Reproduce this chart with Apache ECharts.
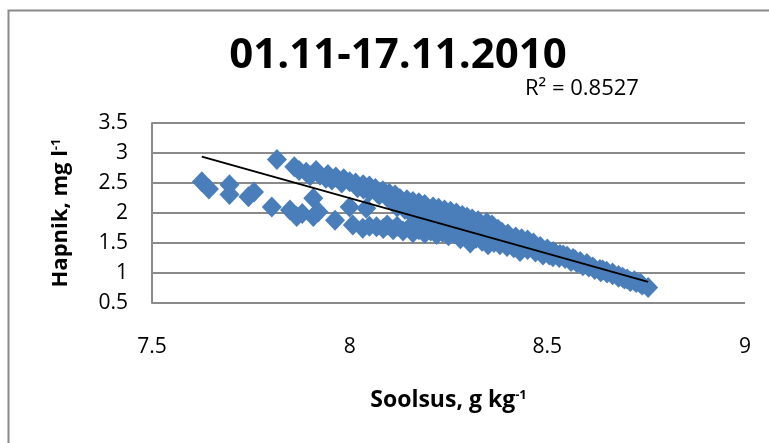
<!DOCTYPE html>
<html>
<head>
<meta charset="utf-8">
<script src="https://cdn.jsdelivr.net/npm/echarts@6/dist/echarts.min.js"></script>
<style>
  html, body { margin: 0; padding: 0; background: #fff; }
  #chart { width: 769px; height: 443px; }
</style>
</head>
<body>
<div id="chart"></div>
<script>
// Salinity (g/kg) and dissolved oxygen (mg/l), 01.11–17.11.2010
const soolsus = [
  7.626, 7.644, 7.696, 7.696, 7.744, 7.758, 7.803, 7.849, 7.866, 7.880,
  7.908, 7.921, 7.908, 7.963, 8.000, 8.042, 8.008, 8.033, 8.068, 8.050,
  7.816, 7.860, 7.872, 7.890, 7.915, 7.925, 7.945, 7.965, 7.985, 8.000,
  8.015, 8.034, 8.050, 8.065, 8.084, 8.100, 8.115, 8.127, 8.145, 8.160,
  8.175, 8.190, 8.211, 8.225, 8.240, 8.255, 8.270, 8.285, 8.297, 8.310,
  8.325, 8.347, 8.360, 8.375, 8.385, 8.400, 8.420, 8.435, 8.450, 8.465,
  8.482, 8.500, 8.515, 8.532, 8.550, 8.565, 8.583, 8.600, 8.615, 8.633,
  8.650, 8.665, 8.680, 8.702, 8.720, 8.735,
  7.900, 7.940, 7.955, 7.980, 8.020, 8.035, 8.050, 8.070, 8.075, 8.095, 8.110,
  8.120, 8.140, 8.155, 8.170, 8.185, 8.200, 8.215, 8.230, 8.245, 8.260,
  8.275, 8.290, 8.305, 8.320, 8.335, 8.350, 8.365, 8.380, 8.395, 8.410,
  8.430, 8.450, 8.470, 8.490, 8.520, 8.540, 8.570, 8.600, 8.640, 8.690,
  8.085, 8.095, 8.110, 8.120, 8.135, 8.150, 8.160, 8.175, 8.190, 8.205,
  8.220, 8.235, 8.250, 8.265, 8.280, 8.290, 8.305, 8.320, 8.335, 8.350,
  8.365, 8.380, 8.398, 8.415, 8.431, 8.450, 8.470, 8.489, 8.505, 8.514,
  8.530, 8.545, 8.560, 8.575, 8.590, 8.605, 8.620, 8.635, 8.651, 8.665,
  8.680, 8.695, 8.710, 8.725, 8.740, 8.755
];
const hapnik = [
  2.52, 2.40, 2.47, 2.31, 2.27, 2.35, 2.10, 2.05, 1.94, 1.99,
  1.94, 2.02, 2.245, 1.88, 2.10, 2.08, 1.80, 1.745, 1.77, 1.78,
  2.89, 2.77, 2.71, 2.68, 2.71, 2.63, 2.64, 2.60, 2.57, 2.52,
  2.50, 2.47, 2.45, 2.41, 2.37, 2.33, 2.30, 2.24, 2.22, 2.19,
  2.17, 2.14, 2.10, 2.08, 2.05, 2.03, 2.00, 1.96, 1.93, 1.90,
  1.87, 1.84, 1.80, 1.73, 1.68, 1.65, 1.60, 1.57, 1.55, 1.50,
  1.44, 1.40, 1.36, 1.31, 1.28, 1.24, 1.19, 1.14, 1.10, 1.06,
  1.03, 1.00, 0.96, 0.90, 0.87, 0.83,
  2.62, 2.58, 2.55, 2.50, 2.42, 2.40, 2.36, 2.33, 2.30, 2.26, 2.20,
  2.10, 2.06, 2.00, 1.95, 1.98, 1.91, 1.86, 1.88, 1.80, 1.83,
  1.76, 1.78, 1.72, 1.74, 1.68, 1.65, 1.62, 1.58, 1.56, 1.52,
  1.48, 1.46, 1.43, 1.38, 1.33, 1.30, 1.22, 1.16, 1.05, 0.93,
  1.74, 1.80, 1.72, 1.78, 1.70, 1.75, 1.67, 1.72, 1.66, 1.70,
  1.64, 1.68, 1.62, 1.66, 1.57, 1.62, 1.50, 1.58, 1.53, 1.47,
  1.51, 1.47, 1.44, 1.42, 1.36, 1.39, 1.35, 1.30, 1.30, 1.27,
  1.26, 1.24, 1.19, 1.17, 1.12, 1.10, 1.06, 1.02, 1.00, 0.97,
  0.93, 0.90, 0.86, 0.84, 0.80, 0.76
];
const xTicks = [7.5, 8, 8.5, 9];
const yTicks = [0.5, 1, 1.5, 2, 2.5, 3, 3.5];
// Linear trend y = a·x + b reported for this period
const trendSlope = -1.849;
const trendIntercept = 17.04;
const chartTitle = '01.11-17.11.2010';
const rSquaredText = 'R\u00b2 = 0.8527';

const FONT = '"Open Sans", "Liberation Sans", sans-serif';
const GRID_GRAY = '#8a8a8a';

const xMin = Math.min.apply(null, soolsus);
const xMax = Math.max.apply(null, soolsus);
const trendData = [xMin, xMax].map(x => [x, trendSlope * x + trendIntercept]);

const points = soolsus.map((x, i) => [x, hapnik[i]]);

const chart = echarts.init(document.getElementById('chart'), null, { renderer: 'canvas' });
chart.setOption({
  backgroundColor: '#fff',
  animation: false,
  grid: { left: 152, right: 24, top: 123, bottom: 140, containLabel: false, outerBoundsMode: 'none' },
  xAxis: {
    type: 'value',
    min: xTicks[0],
    max: xTicks[xTicks.length - 1],
    interval: xTicks[1] - xTicks[0],
    axisLine: { show: false },
    axisTick: { show: false },
    splitLine: { show: false },
    axisLabel: {
      margin: 34, fontSize: 21, color: '#000', fontFamily: FONT,
      showMinLabel: true, showMaxLabel: true
    },
    name: '{b|Soolsus, g kg}{s|-1}',
    nameLocation: 'middle',
    nameGap: 86,
    nameTextStyle: {
      rich: {
        b: { fontSize: 23, fontWeight: 'bold', fontFamily: FONT, color: '#000' },
        s: { fontSize: 13, fontWeight: 'bold', fontFamily: FONT, color: '#000', verticalAlign: 'top' }
      }
    }
  },
  yAxis: {
    type: 'value',
    min: yTicks[0],
    max: yTicks[yTicks.length - 1],
    interval: yTicks[1] - yTicks[0],
    axisLine: { show: true, lineStyle: { color: GRID_GRAY, width: 2 } },
    axisTick: { show: false },
    splitLine: { show: true, lineStyle: { color: GRID_GRAY, width: 2 } },
    axisLabel: { margin: 24, fontSize: 21, color: '#000', fontFamily: FONT },
    name: '{b|Hapnik, mg l}{s|-1}',
    nameLocation: 'middle',
    nameRotate: 90,
    nameGap: 80,
    nameTextStyle: {
      rich: {
        b: { fontSize: 22, fontWeight: 'bold', fontFamily: FONT, color: '#000' },
        s: { fontSize: 13, fontWeight: 'bold', fontFamily: FONT, color: '#000', verticalAlign: 'top' }
      }
    }
  },
  series: [
    {
      type: 'scatter',
      data: points,
      symbol: 'diamond',
      symbolSize: [20, 21],
      itemStyle: { color: '#4a7ebb', opacity: 1 },
      z: 2
    },
    {
      type: 'line',
      data: trendData,
      symbol: 'none',
      lineStyle: { color: '#000', width: 2 },
      z: 3
    }
  ],
  graphic: [
    {
      type: 'rect',
      shape: { x: 8.5, y: 10.5, width: 800, height: 500 },
      style: { fill: 'none', stroke: GRID_GRAY, lineWidth: 2 },
      silent: true
    },
    {
      type: 'text',
      x: 398, y: 56,
      style: {
        text: chartTitle, textAlign: 'center', textVerticalAlign: 'middle',
        font: 'bold 42px ' + FONT, fill: '#000'
      }
    },
    {
      type: 'text',
      x: 525, y: 89,
      style: {
        text: rSquaredText, textAlign: 'left', textVerticalAlign: 'middle',
        font: '22px ' + FONT, fill: '#000'
      }
    }
  ]
});
</script>
</body>
</html>
